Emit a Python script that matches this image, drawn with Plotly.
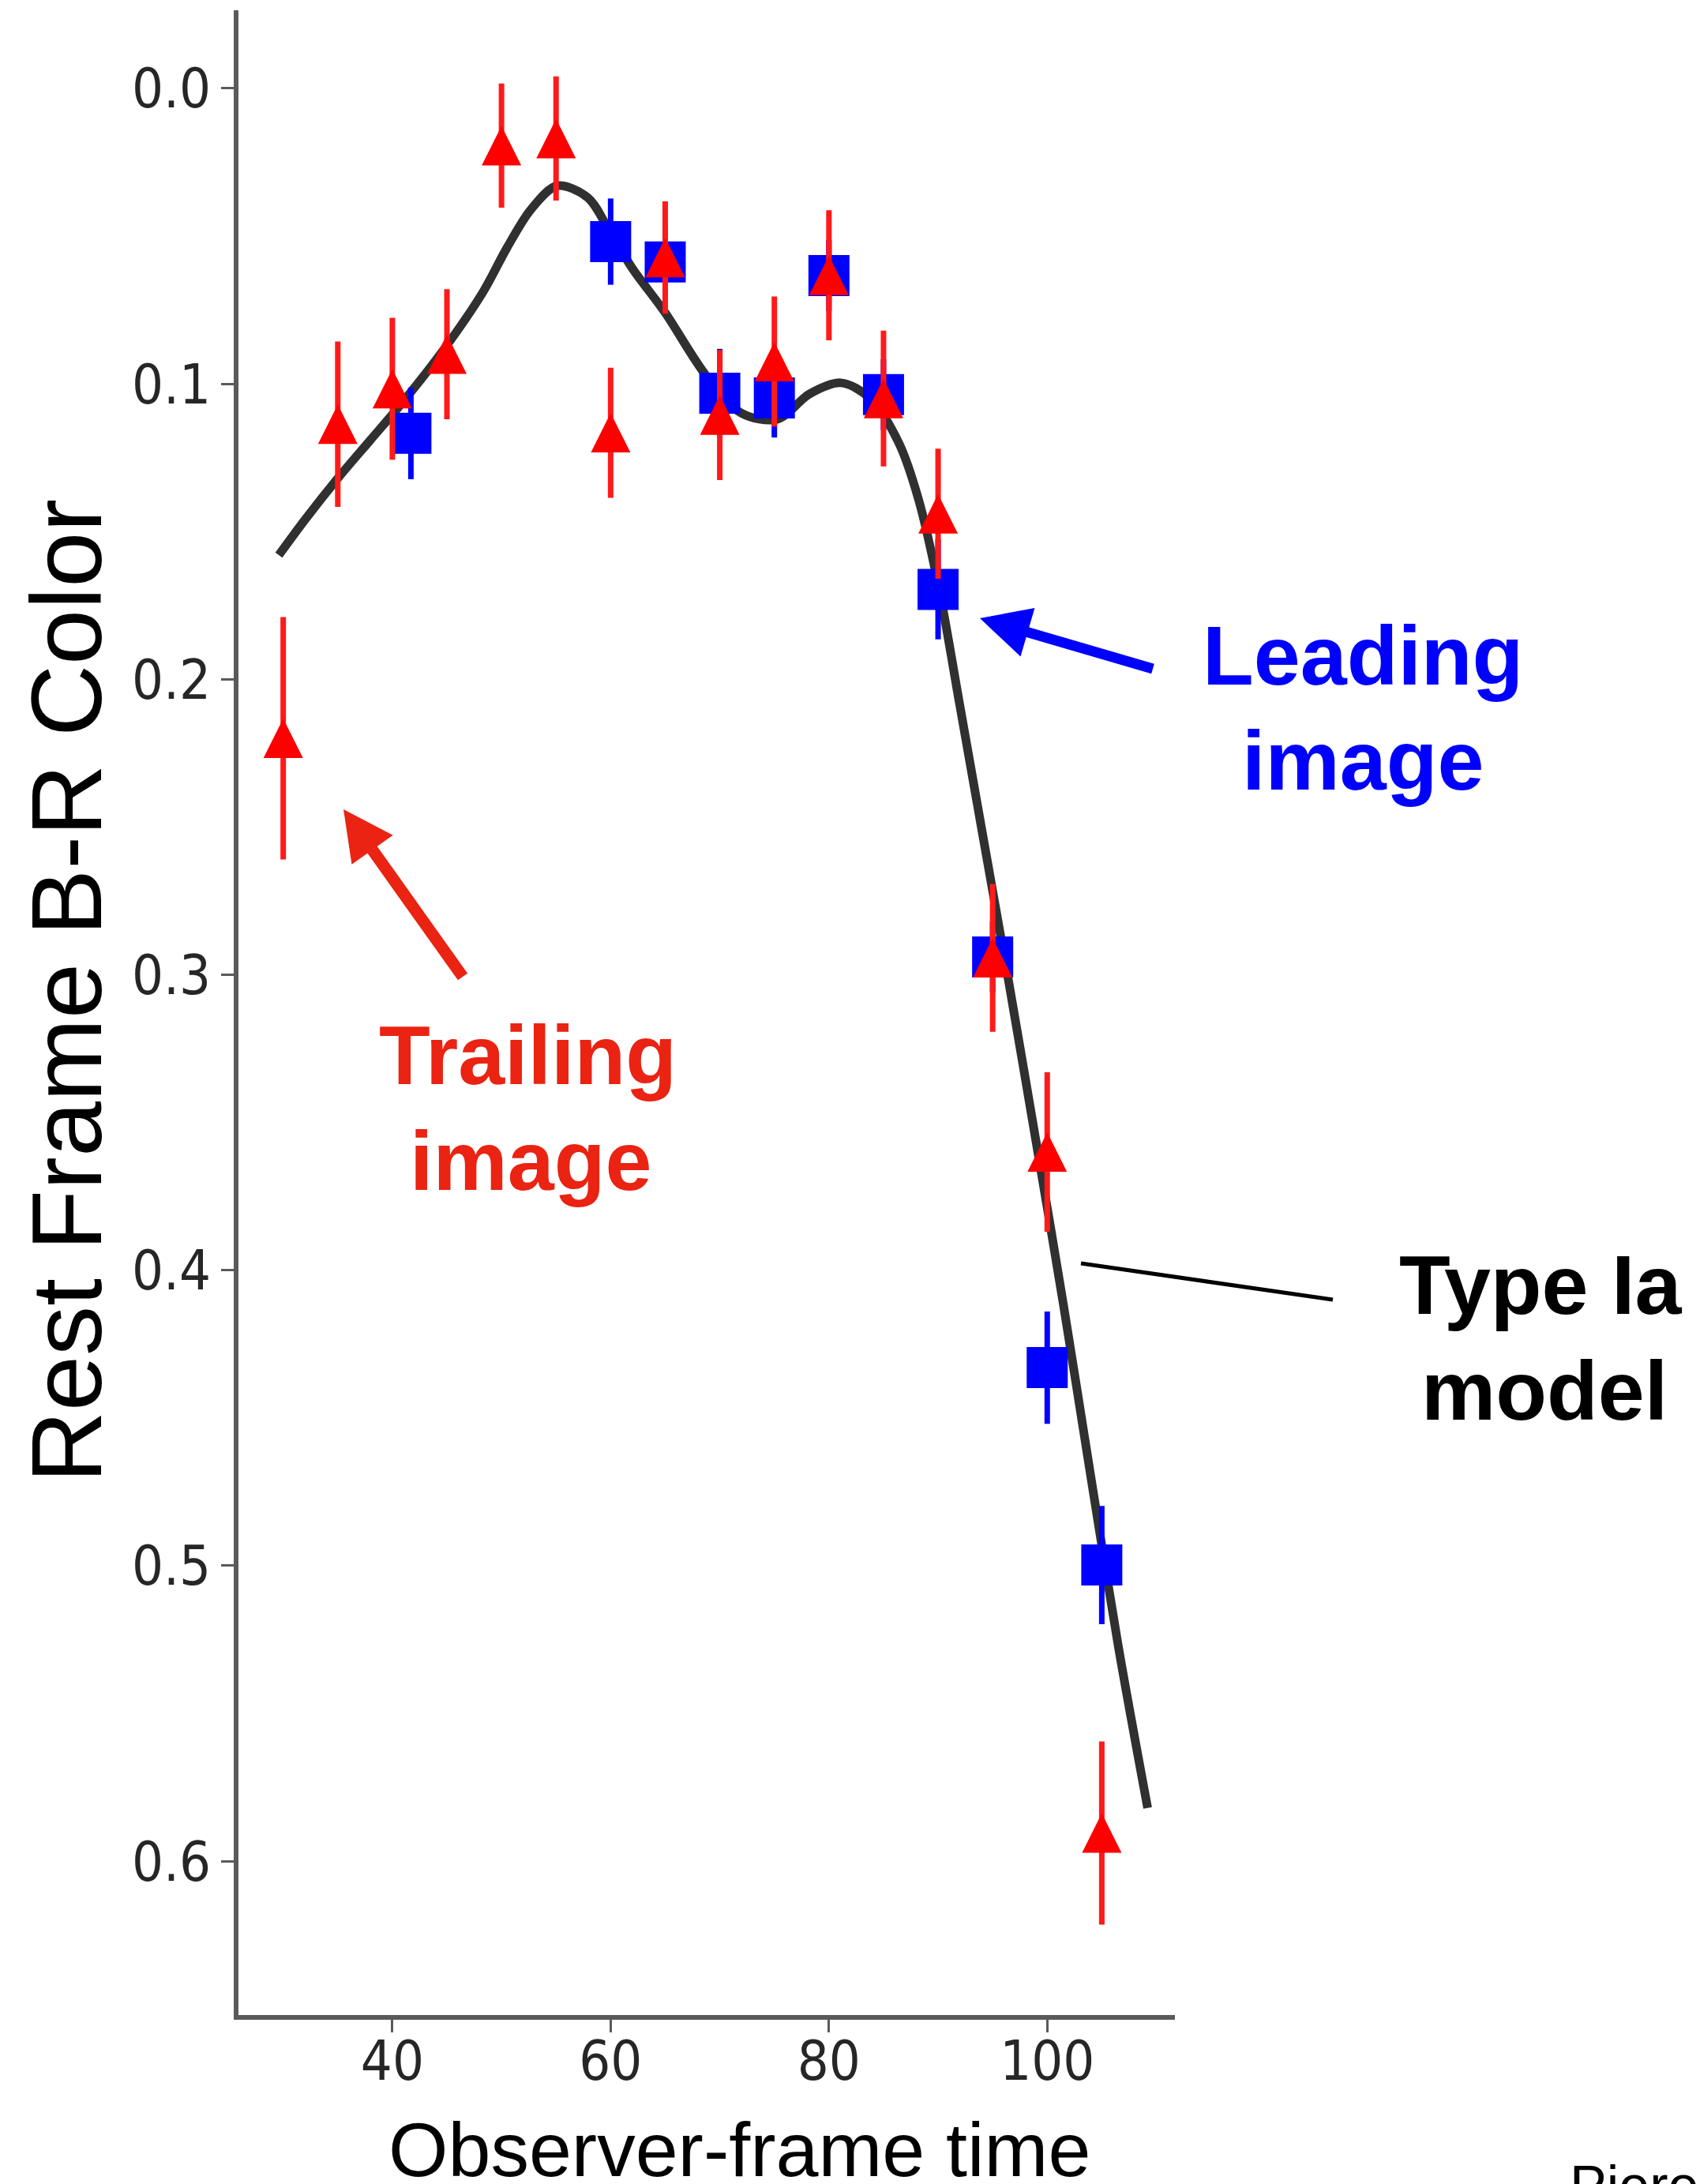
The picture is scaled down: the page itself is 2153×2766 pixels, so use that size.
import math
import plotly.graph_objects as go

# ---------------- data ----------------
trail_t = [30, 35, 40, 45, 50, 55, 60, 65, 70, 75, 80, 85, 90, 95, 100, 105]
trail_c = [0.220, 0.1137, 0.1017, 0.090, 0.0194, 0.017, 0.1166, 0.0573, 0.1106,
           0.0925, 0.0633, 0.105, 0.144, 0.2943, 0.360, 0.5905]
trail_e = [0.041, 0.028, 0.024, 0.022, 0.021, 0.021, 0.022, 0.019, 0.022,
           0.022, 0.022, 0.023, 0.022, 0.025, 0.027, 0.031]

lead_t = [41.7, 60, 65, 70, 75, 80, 85, 90, 95, 100, 105]
lead_c = [0.1168, 0.0519, 0.0588, 0.1032, 0.1048, 0.0634, 0.1037, 0.1696,
          0.2940, 0.4330, 0.4998]
lead_e = [0.0155, 0.0146, 0.012, 0.015, 0.0134, 0.012, 0.012, 0.0169,
          0.012, 0.019, 0.020]

model_t = [29.6, 32, 35, 38, 41, 44.6, 48.3, 50.5, 52.7, 55.1, 57.9, 60, 62,
           65, 68.7, 72, 75.3, 78.2, 81.1, 83.8, 86.4, 88.2, 90.1, 92.0, 94.2,
           96.5, 99.0, 101.5, 104.0, 106.5, 109.2]
model_c = [0.158, 0.146, 0.132, 0.119, 0.106, 0.089, 0.069, 0.054, 0.041,
           0.033, 0.037, 0.049, 0.061, 0.076, 0.097, 0.110, 0.112, 0.1035,
           0.0997, 0.105, 0.120, 0.139, 0.1696, 0.209, 0.255, 0.303, 0.357,
           0.412, 0.470, 0.527, 0.582]

x_ticks = [40, 60, 80, 100]
y_ticks = [0.0, 0.1, 0.2, 0.3, 0.4, 0.5, 0.6]
y_tick_text = ["0.0", "0.1", "0.2", "0.3", "0.4", "0.5", "0.6"]

# ---------------- layout geometry ----------------
W, H = 2153, 2766
L, R, T, B = 302, 1488, 13, 2552   # plot area in pixels


def px(x):
    return (x - L) / (R - L)


def py(y):
    return (B - y) / (B - T)


RED = "#ff0000"
BLUE = "#0000ff"
ANN_RED = "#ea2312"
TICKFONT = dict(family="DejaVu Sans Condensed, DejaVu Sans", size=70, color="#262626")
BOLD = "Liberation Sans, Arial, Helvetica, sans-serif"

fig = go.Figure()

fig.add_trace(go.Scatter(
    x=model_t, y=model_c, mode="lines",
    line=dict(color="#303030", width=11, shape="spline", smoothing=0.9),
    hoverinfo="skip", showlegend=False))

fig.add_trace(go.Scatter(
    x=lead_t, y=lead_c, mode="markers",
    marker=dict(symbol="square", size=52, color=BLUE, line=dict(width=0)),
    error_y=dict(type="data", array=lead_e, visible=True, color=BLUE,
                 thickness=7, width=0),
    showlegend=False))

# upward triangle centred on the point: an 'arrow-down' glyph turned 180 deg
TRI = 50
fig.add_trace(go.Scatter(
    x=trail_t, y=trail_c, mode="markers",
    marker=dict(symbol="arrow-down", angle=180, standoff=TRI / 2, size=TRI,
                color=RED, line=dict(width=0)),
    error_y=dict(type="data", array=trail_e, visible=True, color="#ff1a1a",
                 thickness=7, width=0),
    showlegend=False))

annotations = []


def txt(text, x, y, size, color, family, bold=False, **kw):
    t = f"<b>{text}</b>" if bold else text
    d = dict(text=t, x=px(x), y=py(y), xref="paper", yref="paper",
             xanchor="center", yanchor="middle", showarrow=False,
             font=dict(family=family, size=size, color=color))
    d.update(kw)
    annotations.append(d)


txt("Leading", 1725.5, 830, 106, BLUE, BOLD, bold=True)
txt("image", 1725.5, 963, 106, BLUE, BOLD, bold=True)
txt("Trailing", 668, 1336, 106, ANN_RED, BOLD, bold=True)
txt("image", 672, 1470, 106, ANN_RED, BOLD, bold=True)
txt("Type Ia", 1951, 1627, 106, "#000000", BOLD, bold=True)
txt("model", 1955.5, 1761, 106, "#000000", BOLD, bold=True)

txt("Observer-frame time", 936.5, 2722, 97, "#000000", "Liberation Sans, Arial, sans-serif")
txt("Rest Frame B-R Color", 84, 1255, 126, "#000000", "Liberation Sans, Arial, sans-serif",
    textangle=-90)
annotations.append(dict(text="Pierel &amp; Rodney (2019)", x=px(1986), y=py(2727),
                        xref="paper", yref="paper", xanchor="left", yanchor="top",
                        showarrow=False,
                        font=dict(family="Liberation Sans, Arial, sans-serif",
                                  size=70, color="#000000")))

shapes = []


def arrow(tip, tail, color, shaft_w, head_len=63, head_w=64):
    dx, dy = tail[0] - tip[0], tail[1] - tip[1]
    n = math.hypot(dx, dy)
    ux, uy = dx / n, dy / n
    bx, by = tip[0] + head_len * ux, tip[1] + head_len * uy
    nx, ny = -uy, ux
    h = head_w / 2
    c1 = (bx + h * nx, by + h * ny)
    c2 = (bx - h * nx, by - h * ny)
    sx, sy = bx - 6 * ux, by - 6 * uy
    shapes.append(dict(type="line", xref="paper", yref="paper",
                       x0=px(sx), y0=py(sy), x1=px(tail[0]), y1=py(tail[1]),
                       line=dict(color=color, width=shaft_w)))
    path = "M {:.5f},{:.5f} L {:.5f},{:.5f} L {:.5f},{:.5f} Z".format(
        px(tip[0]), py(tip[1]), px(c1[0]), py(c1[1]), px(c2[0]), py(c2[1]))
    shapes.append(dict(type="path", xref="paper", yref="paper", path=path,
                       fillcolor=color, line=dict(width=0)))


arrow((1241, 783), (1460, 847), BLUE, 13)
arrow((435, 1025), (586, 1237), ANN_RED, 15)

shapes.append(dict(type="line", xref="paper", yref="paper",
                   x0=px(1369), y0=py(1600), x1=px(1688), y1=py(1646),
                   line=dict(color="#000000", width=5)))

fig.update_layout(
    width=W, height=H,
    margin=dict(l=L, r=W - R, t=T, b=H - B, pad=0),
    paper_bgcolor="white", plot_bgcolor="white",
    showlegend=False,
    annotations=annotations,
    shapes=shapes,
    xaxis=dict(range=[25.9, 111.7], tickvals=x_ticks, ticktext=[str(v) for v in x_ticks],
               showgrid=False, zeroline=False, showline=True, linecolor="#5a5a5a",
               linewidth=6, ticks="outside", ticklen=16, tickwidth=3,
               tickcolor="#5a5a5a", tickfont=TICKFONT, ticklabelstandoff=-24),
    yaxis=dict(range=[0.6521, -0.0264], tickvals=y_ticks, ticktext=y_tick_text,
               showgrid=False, zeroline=False, showline=True, linecolor="#5a5a5a",
               linewidth=6, ticks="outside", ticklen=16, tickwidth=3,
               tickcolor="#5a5a5a", tickfont=TICKFONT, ticklabelstandoff=-1),
)

fig.write_html("out.html")
